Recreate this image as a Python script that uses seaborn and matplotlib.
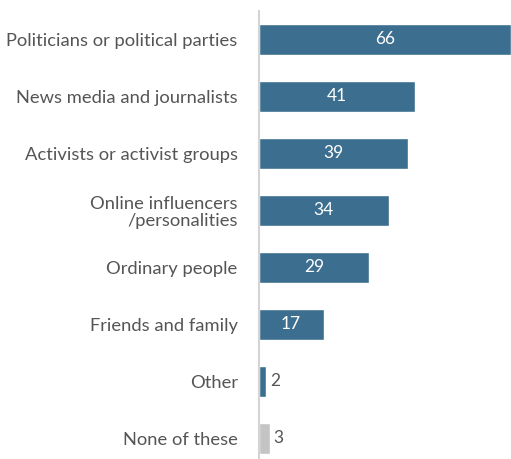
import matplotlib
matplotlib.use("Agg")
import matplotlib.pyplot as plt
import seaborn as sns
import pandas as pd

categories = [
    "Politicians or political parties",
    "News media and journalists",
    "Activists or activist groups",
    "Online influencers\n/personalities",
    "Ordinary people",
    "Friends and family",
    "Other",
    "None of these",
]
values = [66, 41, 39, 34, 29, 17, 2, 3]
groups = ["main"] * 7 + ["none"]

df = pd.DataFrame({"category": categories, "value": values, "group": groups})

sns.set_theme(style="white")
plt.rcParams["font.family"] = ["Lato", "DejaVu Sans"]

fig = plt.figure(figsize=(5.11, 4.59), dpi=100)
ax = fig.add_axes([258.5 / 511, 0.0, 1 - 258.5 / 511, 1 - 11 / 459])

palette = {"main": "#3b6e8f", "none": "#c4c4c4"}
sns.barplot(data=df, x="value", y="category", hue="group", palette=palette,
            dodge=False, width=0.54, legend=False, ax=ax, orient="h",
            saturation=1)

ax.set_xlim(0, 66)
ax.set_ylim(7.36, -0.5)
ax.set_xlabel("")
ax.set_ylabel("")
ax.set_xticks([])
ax.tick_params(axis="y", length=0, pad=15, labelsize=13.2, labelcolor="#555555")
for lab in ax.get_yticklabels():
    lab.set_horizontalalignment("right")
    lab.set_multialignment("right")
    lab.set_linespacing(1.1)

for s in ["top", "right", "bottom"]:
    ax.spines[s].set_visible(False)
ax.spines["left"].set_color("#d4d4d4")
ax.spines["left"].set_linewidth(1.5)

for i, v in enumerate(values):
    if v >= 10:
        ax.text(v / 2, i, str(v), ha="center", va="center", color="white", fontsize=12.5)
    else:
        ax.text(v + 1.0, i, str(v), ha="left", va="center", color="#555555", fontsize=12.5)

fig.savefig("out.png", dpi=100)
